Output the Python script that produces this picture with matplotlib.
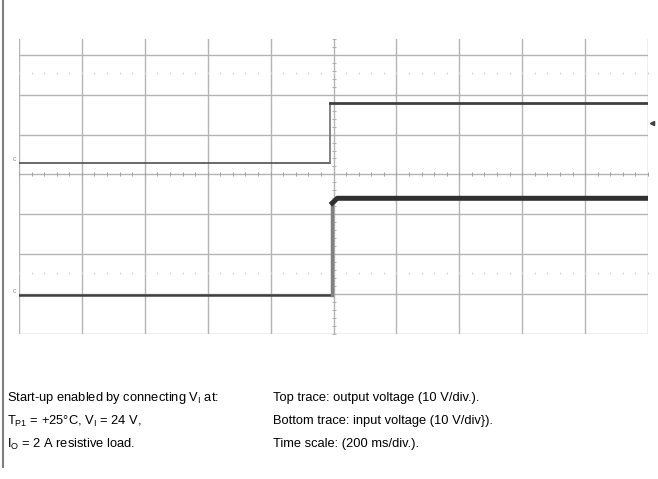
import numpy as np
import matplotlib.pyplot as plt

plt.rcParams['font.family'] = ['Liberation Sans', 'DejaVu Sans']

# scope traces, x in time divisions (200 ms/div), y in screen divisions
out_t = [0, 4.95, 4.95, 10]
out_v = [4.28, 4.28, 5.79, 5.79]
in_t = [0, 4.98, 4.98, 5.06, 10]
in_v = [0.98, 0.98, 3.28, 3.40, 3.40]

left_notes = ['Start-up enabled by connecting $\\mathregular{V_I}$ at:',
              '$\\mathregular{T_{P1}}$ = +25°C, $\\mathregular{V_I}$ = 24 V,',
              '$\\mathregular{I_O}$ = 2 A resistive load.']
right_notes = ['Top trace: output voltage (10 V/div.).',
               'Bottom trace: input voltage (10 V/div}).',
               'Time scale: (200 ms/div.).']

W, H = 658, 479
fig = plt.figure(figsize=(W / 100, H / 100), dpi=100)

# left frame line of the page
fig.add_artist(plt.Line2D([2.5 / W, 2.5 / W], [1, 1 - 467 / H], color='#808080', lw=1.5))

ax = fig.add_axes([19 / W, 1 - 333.7 / H, 629 / W, 294.7 / H])
ax.set_xlim(0, 10)
ax.set_ylim(0, 7.4)
ax.axis('off')

grid = '#b4b4b4'
for x in range(11):
    ax.plot([x, x], [0, 7.4], color=grid, lw=1)
for y in range(8):
    ax.plot([0, 10], [y, y], color=grid, lw=1)

# minor ticks on the centre axes
minor = np.arange(0, 10.01, 0.2)
ax.plot(minor, [4] * len(minor), ls='none', marker='|', ms=3, color='#a0a0a0', mew=0.7)
vminor = np.arange(0, 7.41, 0.2)
ax.plot([5] * len(vminor), vminor, ls='none', marker='_', ms=2.5, color='#b0b0b0', mew=0.7)

# faint dotted rows
for yy in [6.55, 1.52]:
    ax.plot(minor, [yy] * len(minor), ls='none', marker='|', ms=2, color='#d4d4d4', mew=0.8)

# output trace: thin before the step, a bit heavier after
ax.plot(out_t[:2], out_v[:2], color='#505050', lw=1.2)
ax.plot(out_t[1:3], out_v[1:3], color='#707070', lw=1.2)
ax.plot(out_t[2:], out_v[2:], color='#404040', lw=2.0)

# input trace
ax.plot(in_t[:2], in_v[:2], color='#404040', lw=1.8)
ax.plot(in_t[1:3], in_v[1:3], color='#808080', lw=2.5)
ax.plot(in_t[2:], in_v[2:], color='#303030', lw=3.6)

# channel markers and trigger arrow
ax.text(-0.05, out_v[0], 'c', fontsize=5, color='#909090', ha='right', va='bottom', clip_on=False)
ax.text(-0.05, in_v[0], 'c', fontsize=5, color='#909090', ha='right', va='bottom', clip_on=False)
ax.plot([10.07], [5.3], marker='<', ms=3, color='#404040', clip_on=False)

for i, s in enumerate(left_notes):
    fig.text(7 / W, 1 - (398 + 23 * i) / H, s, fontsize=9.3, va='center', ha='left')
for i, s in enumerate(right_notes):
    fig.text(273 / W, 1 - (398 + 23 * i) / H, s, fontsize=9.3, va='center', ha='left')

fig.savefig('out.png', dpi=100)
